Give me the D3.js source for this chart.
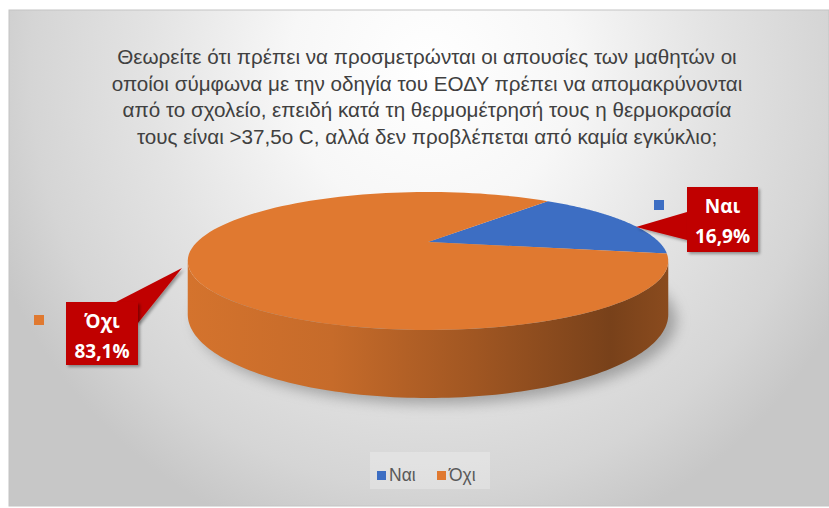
<!DOCTYPE html>
<html>
<head>
<meta charset="utf-8">
<script src="https://cdn.jsdelivr.net/npm/d3@7"></script>
<style>
  body { margin: 0; background: #fff; }
  svg { display: block; }
  text { font-family: "Liberation Sans", "Open Sans", sans-serif; }
</style>
</head>
<body>
<div id="container"></div>
<script>
// data
const categories = ['Ναι', 'Όχι']
const values = [16.9, 83.1]
const valueLabels = ['16,9%', '83,1%']
const colors = ['#3d6ec3', '#e07930']
const titleLines = [
  'Θεωρείτε ότι πρέπει να προσμετρώνται οι απουσίες των μαθητών οι',
  'οποίοι σύμφωνα με την οδηγία του ΕΟΔΥ πρέπει να απομακρύνονται',
  'από το σχολείο, επειδή κατά τη θερμομέτρησή τους η θερμοκρασία',
  'τους είναι >37,5ο C, αλλά δεν προβλέπεται από καμία εγκύκλιο;'
]

const w = 829
const h = 508

const svg = d3.select('#container')
  .append('svg')
  .attr('width', w)
  .attr('height', h)

const defs = svg.append('defs')

// background gradient
const bg = defs.append('radialGradient')
  .attr('id', 'bg')
  .attr('gradientUnits', 'userSpaceOnUse')
  .attr('cx', 430).attr('cy', 70).attr('r', 470)
  .attr('gradientTransform', 'translate(430,70) scale(1,1.05) translate(-430,-70)')
;[[0, '#ffffff'], [0.3, '#f7f7f7'], [0.6, '#e3e3e3'], [0.85, '#d5d5d5'], [1, '#c7c7c7']]
  .forEach(s => bg.append('stop').attr('offset', s[0]).attr('stop-color', s[1]))

const blur = defs.append('filter').attr('id', 'blur')
  .attr('x', '-20%').attr('y', '-50%').attr('width', '140%').attr('height', '200%')
blur.append('feGaussianBlur').attr('stdDeviation', 7)

const shadow = defs.append('filter').attr('id', 'shadow')
shadow.append('feDropShadow')
  .attr('dx', 2).attr('dy', 2).attr('stdDeviation', 1.5)
  .attr('flood-color', '#000').attr('flood-opacity', 0.35)

svg.append('rect')
  .attr('x', 9).attr('y', 10)
  .attr('width', w - 9).attr('height', h - 12)
  .attr('fill', 'url(#bg)')
  .attr('stroke', '#c4c4c4')

// title
const title = svg.append('g')
  .attr('fill', '#404040')
  .attr('text-anchor', 'middle')

title.selectAll('text')
  .data(titleLines)
  .enter()
  .append('text')
  .attr('x', 427)
  .attr('y', (d, i) => 64 + i * 26.5)
  .attr('font-size', 18)
  .text(d => d)

// fit first line to the reference width
const len0 = title.select('text').node().getComputedTextLength()
title.selectAll('text').attr('font-size', 18 * 620 / len0)

// perspective pie
const cx = 428, cy = 242
const A = 231, B = 63.8, H = 49.3, a = 0.275

const proj = (t, r = 1, drop = 0) => {
  const u = r * Math.sin(t)
  const v = -r * Math.cos(t)
  const d = 1 - a * v
  return [cx + A * u / d, cy + (B * v + drop) / d]
}

const startA = 39 * Math.PI / 180
const arcs = d3.pie().sort(null)
  .startAngle(startA)
  .endAngle(startA + 2 * Math.PI)(values)

const line = d3.line()

const sample = (t0, t1, drop) => d3.range(0, 121)
  .map(i => proj(t0 + (t1 - t0) * i / 120, 1, drop))

// shadow under the pie
const thR = Math.acos(-a)
const bottomRing = sample(0, 2 * Math.PI, H).map(p => [p[0] + 8, p[1] + 6])
svg.append('path')
  .attr('d', line(bottomRing) + 'Z')
  .attr('fill', '#6e6e6e')
  .attr('opacity', 0.55)
  .attr('filter', 'url(#blur)')

// side faces
arcs.forEach((d, i) => {
  const g = defs.append('linearGradient')
    .attr('id', 'side' + i)
    .attr('gradientUnits', 'userSpaceOnUse')
    .attr('x1', cx - A * 1.04).attr('x2', cx + A * 1.04)
    .attr('y1', 0).attr('y2', 0)
  const c = d3.color(colors[i])
  ;[[0, 0.15], [0.3, 0.35], [0.6, 0.95], [0.88, 1.75], [1, 1.35]]
    .forEach(s => g.append('stop').attr('offset', s[0]).attr('stop-color', c.darker(s[1]).formatHex()))

  // the front part of the rim, seen between the two silhouette edges
  const lo = Math.max(d.startAngle, thR)
  const hi = Math.min(d.endAngle, 2 * Math.PI - thR)
  if (hi <= lo) return
  const pts = sample(lo, hi, 0).concat(sample(hi, lo, H))
  svg.append('path')
    .attr('d', line(pts) + 'Z')
    .attr('fill', 'url(#side' + i + ')')
})

// top faces
arcs.forEach((d, i) => {
  const pts = [proj(0, 0)].concat(sample(d.startAngle, d.endAngle, 0))
  svg.append('path')
    .attr('d', line(pts) + 'Z')
    .attr('fill', colors[i])
})

// data labels (callout boxes)
const labelBoxes = [
  { x: 687, y: 187, w: 71, h: 65, tip: [636, 227], base: [[687, 212], [687, 240]], key: [654, 200] },
  { x: 66, y: 302, w: 72, h: 63, tip: [182, 268], base: [[116, 302], [138, 323]], key: [34, 315] }
]

labelBoxes.forEach((b, i) => {
  const g = svg.append('g')
  g.append('path')
    .attr('d', line([b.base[0], b.tip, b.base[1]]) + 'Z')
    .attr('fill', '#c00000')
    .attr('filter', 'url(#shadow)')
  g.append('rect')
    .attr('x', b.x).attr('y', b.y)
    .attr('width', b.w).attr('height', b.h)
    .attr('fill', '#c00000')
    .attr('filter', 'url(#shadow)')
  g.append('text')
    .attr('x', b.x + b.w / 2).attr('y', b.y + 26)
    .attr('text-anchor', 'middle')
    .attr('fill', '#fff')
    .attr('font-weight', 'bold')
    .attr('font-size', 19)
    .style('font-family', '"Open Sans", sans-serif')
    .text(categories[i])
  g.append('text')
    .attr('x', b.x + b.w / 2).attr('y', b.y + 56)
    .attr('text-anchor', 'middle')
    .attr('fill', '#fff')
    .attr('font-weight', 'bold')
    .attr('font-size', 19)
    .style('font-family', '"Open Sans", sans-serif')
    .text(valueLabels[i])
  svg.append('rect')
    .attr('x', b.key[0]).attr('y', b.key[1])
    .attr('width', 10).attr('height', 10)
    .attr('fill', colors[i])
})

// legend
const legend = svg.append('g')
  .attr('transform', 'translate(377,471)')

legend.append('rect')
  .attr('x', -7).attr('y', -19)
  .attr('width', 120).attr('height', 37)
  .attr('fill', '#ffffff')
  .attr('opacity', 0.25)

const legendX = d3.scalePoint().domain(categories).range([0, 60])

categories.forEach((c, i) => {
  legend.append('rect')
    .attr('x', legendX(c)).attr('y', 0)
    .attr('width', 9).attr('height', 9)
    .attr('fill', colors[i])
  legend.append('text')
    .attr('x', legendX(c) + 12).attr('y', 10)
    .attr('font-size', 17.5)
    .attr('fill', '#595959')
    .text(c)
})
</script>
</body>
</html>
